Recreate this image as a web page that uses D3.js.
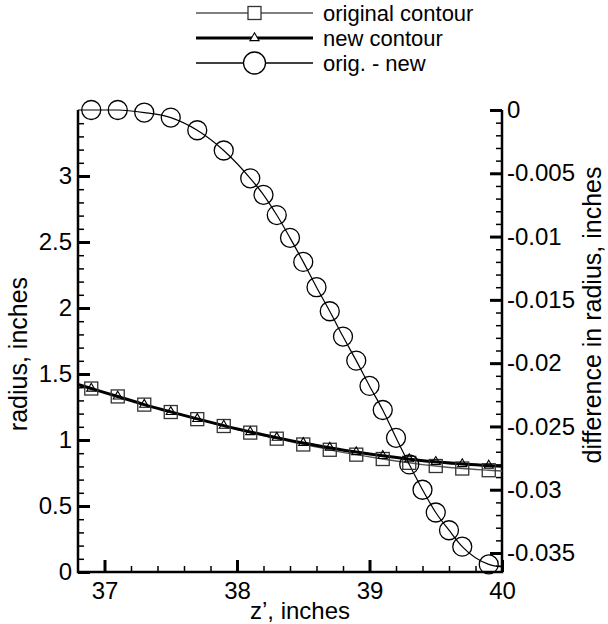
<!DOCTYPE html>
<html lang="en">
<head>
<meta charset="UTF-8">
<script src="https://d3js.org/d3.v7.min.js"></script>
<style>
  body { margin: 0; background: #fff; }
  text { font-family: "Liberation Sans", Arial, sans-serif; fill: #000; }
</style>
</head>
<body>
<svg width="608" height="624"></svg>
<script>
// contour points (z', inches)
const contourZ = [36.9, 37.1, 37.3, 37.5, 37.7, 37.9, 38.1, 38.3, 38.5, 38.7, 38.9, 39.1, 39.3, 39.5, 39.7, 39.9];
const origRadius = [1.390, 1.330, 1.268, 1.212, 1.158, 1.106, 1.056, 1.010, 0.966, 0.926, 0.889, 0.856, 0.827, 0.803, 0.784, 0.771];
const newRadius  = [1.390, 1.330, 1.268, 1.213, 1.160, 1.109, 1.061, 1.018, 0.978, 0.942, 0.909, 0.880, 0.855, 0.835, 0.818, 0.807];
// ends of the contour curves at the axes
const contourEndZ = [36.8, 40];
const origEnds = [1.420, 0.765];
const newEnds = [1.420, 0.802];

// difference points (orig. - new)
const diffZ = [36.9, 37.1, 37.3, 37.5, 37.7, 37.9, 38.1, 38.2, 38.3, 38.4, 38.5, 38.6, 38.7, 38.8, 38.9, 39.0, 39.1, 39.2, 39.3, 39.4, 39.5, 39.6, 39.7, 39.9];
const diffVal = [0, 0, -0.0002, -0.0006, -0.0016, -0.0032, -0.0054, -0.0067, -0.0083, -0.0101, -0.0120, -0.0140, -0.0159, -0.0179, -0.0198, -0.0218, -0.0237, -0.0259, -0.0280, -0.0300, -0.0318, -0.0332, -0.0345, -0.0359];
const diffEnds = [0, -0.0361];

// ticks
const xTicks = [37, 38, 39, 40];
const yLeftTicks = [0, 0.5, 1, 1.5, 2, 2.5, 3];
const yRightTicks = [0, -0.005, -0.01, -0.015, -0.02, -0.025, -0.03, -0.035];

const legendLabels = ['original contour', 'new contour', 'orig. - new'];

const svg = d3.select('svg');
const pLeft = 78, pRight = 502, pTop = 110, pBottom = 572;

const x = d3.scaleLinear().domain([36.8, 40]).range([pLeft, pRight]);
const yL = d3.scaleLinear().domain([0, 3.5]).range([pBottom, pTop]);
const yR = d3.scaleLinear().domain([-0.0365, 0]).range([pBottom, pTop]);

const fmt = d => String(+d.toFixed(4));
const fs = '24px';

// minor ticks
const xMinor = d3.range(36.8, 40.001, 0.2).map(v => +v.toFixed(1)).filter(v => !xTicks.includes(v) && v > 36.8);
const yLMinor = d3.range(0, 3.5, 0.1).map(v => +v.toFixed(1)).filter(v => !yLeftTicks.includes(v) && v > 0);
const yRMinor = d3.range(0, -0.0366, -0.001).map(v => +v.toFixed(3)).filter(v => !yRightTicks.includes(v) && v < 0);

function styleAxis(g, w) {
  g.select('.domain').remove();
  g.selectAll('.tick line').attr('stroke', '#000').attr('stroke-width', w);
  g.selectAll('.tick text').style('font-size', fs).attr('fill', '#000');
}

svg.append('g').attr('transform', `translate(0,${pBottom})`)
  .call(d3.axisBottom(x).tickValues(xMinor).tickSize(-6).tickFormat(''))
  .call(g => styleAxis(g, 1.5));
svg.append('g').attr('transform', `translate(${pLeft},0)`)
  .call(d3.axisLeft(yL).tickValues(yLMinor).tickSize(-6).tickFormat(''))
  .call(g => styleAxis(g, 1.5));
svg.append('g').attr('transform', `translate(${pRight},0)`)
  .call(d3.axisRight(yR).tickValues(yRMinor).tickSize(-6).tickFormat(''))
  .call(g => styleAxis(g, 1.5));

// major ticks
svg.append('g').attr('transform', `translate(0,${pBottom})`)
  .call(d3.axisBottom(x).tickValues(xTicks).tickSize(-12).tickPadding(10).tickFormat(fmt))
  .call(g => styleAxis(g, 3));
svg.append('g').attr('transform', `translate(${pLeft},0)`)
  .call(d3.axisLeft(yL).tickValues(yLeftTicks).tickSize(-12).tickPadding(6).tickFormat(fmt))
  .call(g => styleAxis(g, 3));
svg.append('g').attr('transform', `translate(${pRight},0)`)
  .call(d3.axisRight(yR).tickValues(yRightTicks).tickSize(-12).tickPadding(5).tickFormat(fmt))
  .call(g => styleAxis(g, 3));

// axis lines (no top frame)
svg.append('path')
  .attr('d', `M${pLeft},${pTop}V${pBottom}H${pRight}V${pTop}`)
  .attr('fill', 'none').attr('stroke', '#000').attr('stroke-width', 2.5);

// axis titles
svg.append('text').attr('x', 300).attr('y', 619).attr('text-anchor', 'middle')
  .style('font-size', fs).text('z\u2019, inches');
svg.append('text').attr('transform', 'translate(27,354) rotate(-90)')
  .attr('text-anchor', 'middle').style('font-size', '25px').text('radius, inches');
svg.append('text').attr('transform', 'translate(601,315) rotate(-90)')
  .attr('text-anchor', 'middle').style('font-size', '25px').text('difference in radius, inches');

// curves
const plot = svg.append('g');
const origPts = [[contourEndZ[0], origEnds[0]], ...contourZ.map((z, i) => [z, origRadius[i]]), [contourEndZ[1], origEnds[1]]];
const newPts = [[contourEndZ[0], newEnds[0]], ...contourZ.map((z, i) => [z, newRadius[i]]), [contourEndZ[1], newEnds[1]]];
const diffPts = [[contourEndZ[0], diffEnds[0]], ...diffZ.map((z, i) => [z, diffVal[i]]), [contourEndZ[1], diffEnds[1]]];

const lineL = d3.line().x(d => x(d[0])).y(d => yL(d[1])).curve(d3.curveMonotoneX);
const lineR = d3.line().x(d => x(d[0])).y(d => yR(d[1])).curve(d3.curveMonotoneX);

plot.append('path').attr('d', lineL(origPts)).attr('fill', 'none').attr('stroke', '#555').attr('stroke-width', 1.3);
plot.append('path').attr('d', lineL(newPts)).attr('fill', 'none').attr('stroke', '#000').attr('stroke-width', 3);
plot.append('path').attr('d', lineR(diffPts)).attr('fill', 'none').attr('stroke', '#000').attr('stroke-width', 1.2);

const sq = 13, tri = d3.symbol().type(d3.symbolTriangle).size(36);

plot.selectAll('.sq').data(contourZ).enter().append('rect')
  .attr('x', (d) => x(d) - sq / 2)
  .attr('y', (d, i) => yL(origRadius[i]) - sq / 2)
  .attr('width', sq).attr('height', sq)
  .attr('fill', 'none').attr('stroke', '#333').attr('stroke-width', 1.3);

plot.selectAll('.tri').data(contourZ).enter().append('path')
  .attr('d', tri)
  .attr('transform', (d, i) => `translate(${x(d)},${yL(newRadius[i])})`)
  .attr('fill', 'none').attr('stroke', '#000').attr('stroke-width', 1.1);

plot.selectAll('.circ').data(diffZ).enter().append('circle')
  .attr('cx', (d) => x(d))
  .attr('cy', (d, i) => yR(diffVal[i]))
  .attr('r', 9.5)
  .attr('fill', 'none').attr('stroke', '#000').attr('stroke-width', 1.3);

// legend
const lg = svg.append('g');
const rowY = [13, 38, 63];
const lx0 = 196, lx1 = 313, lmid = (lx0 + lx1) / 2;
legendLabels.forEach((label, i) => {
  lg.append('line').attr('x1', lx0).attr('x2', lx1).attr('y1', rowY[i]).attr('y2', rowY[i])
    .attr('stroke', i === 0 ? '#555' : '#000').attr('stroke-width', i === 1 ? 3 : 1.3);
  lg.append('text').attr('x', 323).attr('y', rowY[i]).attr('dy', '0.35em')
    .style('font-size', '22px').text(label);
});
lg.append('rect').attr('x', lmid - sq / 2).attr('y', rowY[0] - sq / 2).attr('width', sq).attr('height', sq)
  .attr('fill', '#fff').attr('stroke', '#333').attr('stroke-width', 1.3);
lg.append('path').attr('d', tri).attr('transform', `translate(${lmid},${rowY[1]})`)
  .attr('fill', '#fff').attr('stroke', '#000').attr('stroke-width', 1.1);
lg.append('circle').attr('cx', lmid).attr('cy', rowY[2]).attr('r', 11)
  .attr('fill', '#fff').attr('stroke', '#000').attr('stroke-width', 1.3);
</script>
</body>
</html>
